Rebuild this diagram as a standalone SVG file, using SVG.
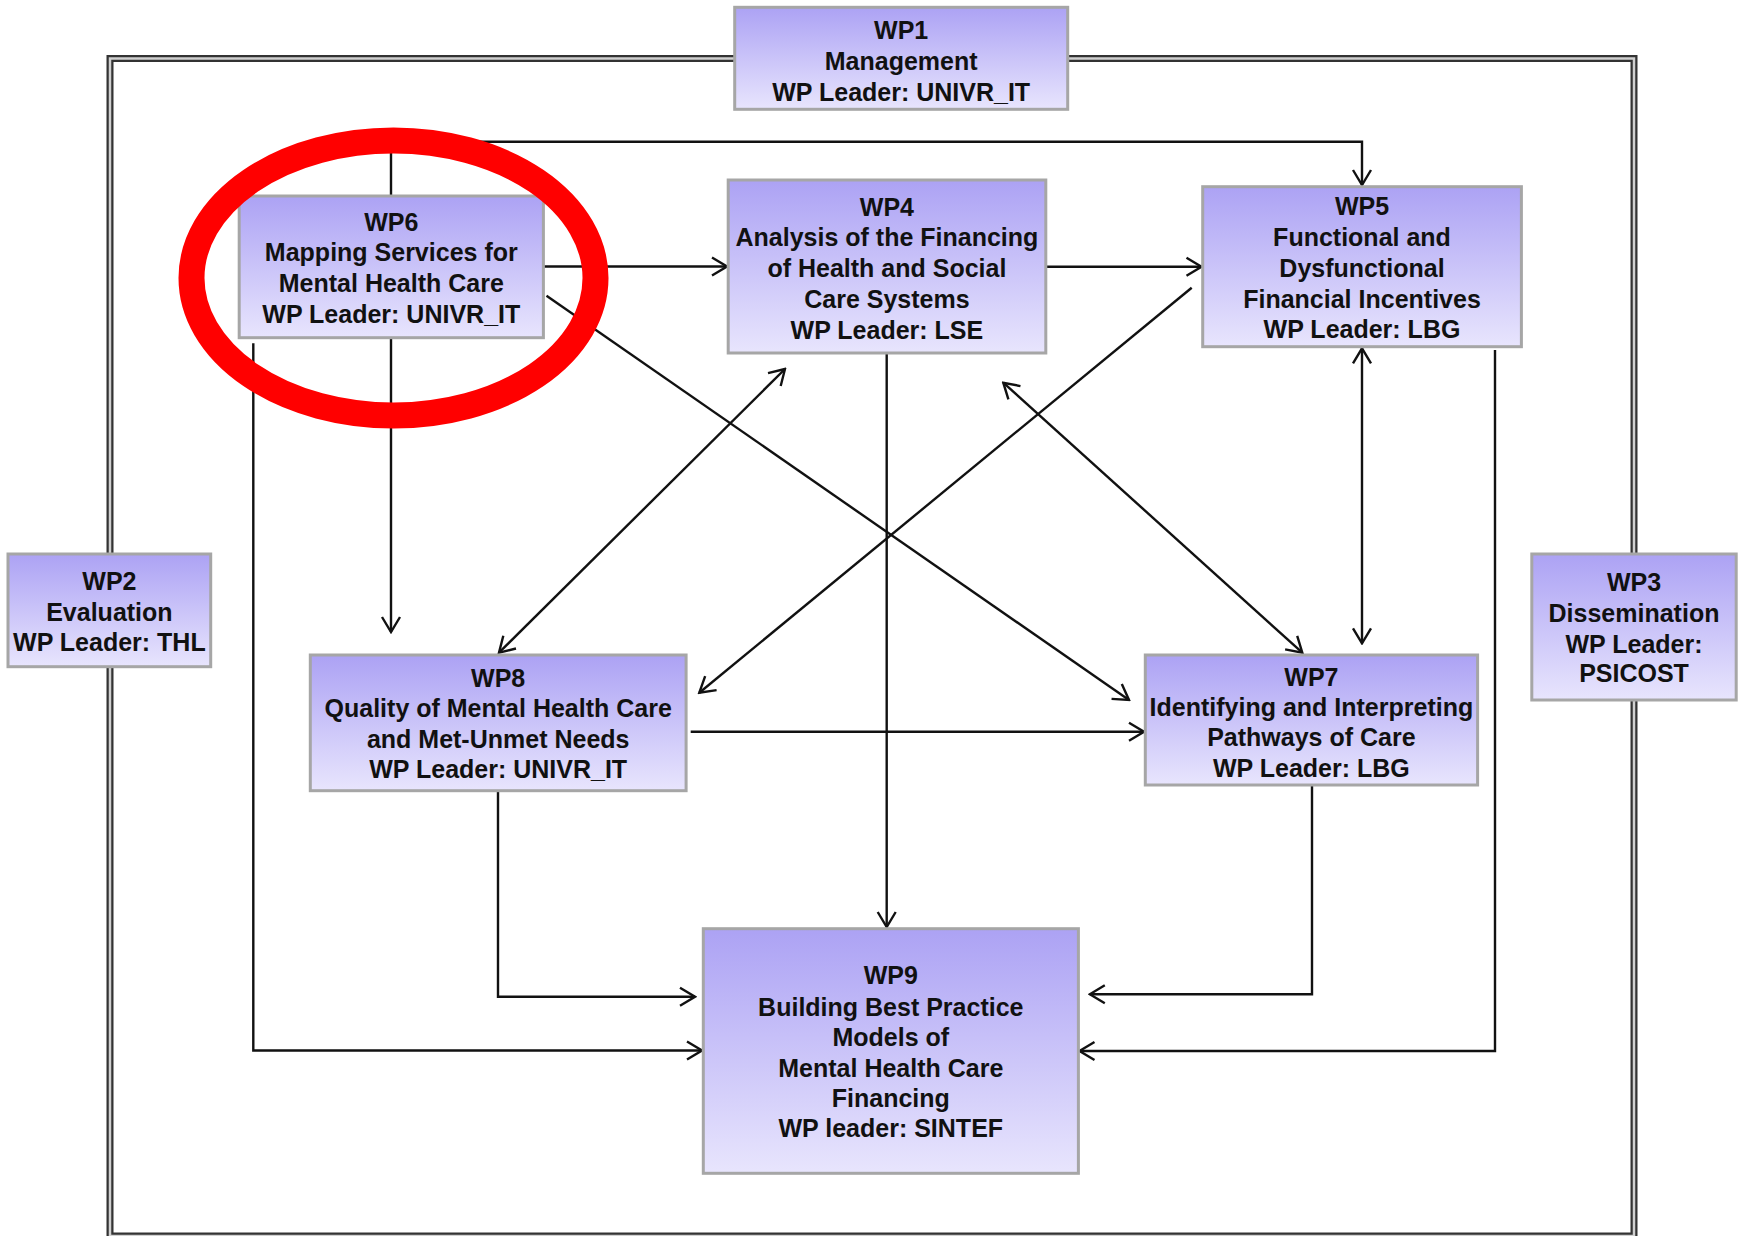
<svg xmlns="http://www.w3.org/2000/svg" width="1740" height="1236" viewBox="0 0 1740 1236">
<style>
.box{fill:url(#g);stroke:#a6a6a6;stroke-width:3}
.t{font-family:"Liberation Sans",Arial,sans-serif;font-weight:bold;font-size:25px;fill:#111;text-anchor:middle}
.c{fill:none;stroke:#111;stroke-width:2.4}
.ar{marker-end:url(#a)}
.ab{marker-start:url(#a);marker-end:url(#a)}
</style>
<defs>
<linearGradient id="g" x1="0" y1="0" x2="0" y2="1">
<stop offset="0" stop-color="#aca2f4"/>
<stop offset="1" stop-color="#e8e5fd"/>
</linearGradient>
<marker id="a" viewBox="-18 -11 20 22" markerWidth="20" markerHeight="22" refX="0" refY="0" orient="auto-start-reverse" markerUnits="userSpaceOnUse">
<path d="M-15,-9 L0,0 L-15,9" fill="none" stroke="#111" stroke-width="2.4"/>
</marker>
</defs>
<rect width="1740" height="1236" fill="#fff"/>
<g id="frame">
<rect x="110" y="58.5" width="1524" height="1177.5" fill="none" stroke="#333" stroke-width="7"/>
<rect x="110" y="58.5" width="1524" height="1177.5" fill="none" stroke="#d0d0d0" stroke-width="2.5"/>
</g>
<g id="connectors">
<path class="c ar" d="M391,196 V141.7 H1362 V185"/>
<path class="c ar" d="M543.4,266.5 H727"/>
<path class="c ar" d="M546.5,295.7 L1129,700"/>
<path class="c ar" d="M391,337.7 V632"/>
<path class="c ar" d="M253.3,343.3 V1050.5 H702"/>
<path class="c ar" d="M1046,266.7 H1201.5"/>
<path class="c ab" d="M785,369 L499,652.7"/>
<path class="c ab" d="M1003.3,382.7 L1302.3,652.7"/>
<path class="c ar" d="M1191.7,287.7 L699.3,692.7"/>
<path class="c ab" d="M1362,348.3 V643.3"/>
<path class="c ar" d="M1495,350 V1051 H1079.5"/>
<path class="c ar" d="M886.7,352.7 V927"/>
<path class="c ar" d="M690.7,731.7 H1144"/>
<path class="c ar" d="M498,790.7 V996.7 H695"/>
<path class="c ar" d="M1312,785 V994.3 H1089.8"/>
</g>
<g id="wp1">
<rect class="box" x="734.7" y="7.3" width="333" height="102"/>
<text class="t"><tspan x="901.2" y="39">WP1</tspan><tspan x="901.2" y="70">Management</tspan><tspan x="901.2" y="100.7">WP Leader: UNIVR_IT</tspan></text>
</g>
<g id="wp2">
<rect class="box" x="8" y="554" width="202.7" height="112.7"/>
<text class="t"><tspan x="109.4" y="589.7">WP2</tspan><tspan x="109.4" y="620.7">Evaluation</tspan><tspan x="109.4" y="651.3">WP Leader: THL</tspan></text>
</g>
<g id="wp3">
<rect class="box" x="1531.8" y="554" width="204.4" height="146"/>
<text class="t"><tspan x="1634" y="590.7">WP3</tspan><tspan x="1634" y="621.7">Dissemination</tspan><tspan x="1634" y="653">WP Leader:</tspan><tspan x="1634" y="682.3">PSICOST</tspan></text>
</g>
<g id="wp4">
<rect class="box" x="728.2" y="180" width="317.6" height="173"/>
<text class="t"><tspan x="886.9" y="215.7">WP4</tspan><tspan x="886.9" y="246.3">Analysis of the Financing</tspan><tspan x="886.9" y="277.3">of Health and Social</tspan><tspan x="886.9" y="308">Care Systems</tspan><tspan x="886.9" y="339">WP Leader: LSE</tspan></text>
</g>
<g id="wp5">
<rect class="box" x="1202.7" y="186.7" width="318.7" height="160"/>
<text class="t"><tspan x="1362" y="215">WP5</tspan><tspan x="1362" y="246">Functional and</tspan><tspan x="1362" y="277">Dysfunctional</tspan><tspan x="1362" y="307.5">Financial Incentives</tspan><tspan x="1362" y="338">WP Leader: LBG</tspan></text>
</g>
<g id="wp6">
<rect class="box" x="239.2" y="196" width="304.2" height="141.7"/>
<text class="t"><tspan x="391.3" y="230.7">WP6</tspan><tspan x="391.3" y="261.3">Mapping Services for</tspan><tspan x="391.3" y="292.3">Mental Health Care</tspan><tspan x="391.3" y="323">WP Leader: UNIVR_IT</tspan></text>
</g>
<g id="wp7">
<rect class="box" x="1145.3" y="655" width="332.3" height="130"/>
<text class="t"><tspan x="1311.4" y="685.7">WP7</tspan><tspan x="1311.4" y="715.7">Identifying and Interpreting</tspan><tspan x="1311.4" y="746.3">Pathways of Care</tspan><tspan x="1311.4" y="777.3">WP Leader: LBG</tspan></text>
</g>
<g id="wp8">
<rect class="box" x="310.3" y="655" width="375.8" height="135.7"/>
<text class="t"><tspan x="498.2" y="686.7">WP8</tspan><tspan x="498.2" y="717.3">Quality of Mental Health Care</tspan><tspan x="498.2" y="748.3">and Met-Unmet Needs</tspan><tspan x="498.2" y="778.3">WP Leader: UNIVR_IT</tspan></text>
</g>
<g id="wp9">
<rect class="box" x="703.3" y="928.7" width="375.1" height="244.6"/>
<text class="t"><tspan x="890.8" y="984">WP9</tspan><tspan x="890.8" y="1015.7">Building Best Practice</tspan><tspan x="890.8" y="1045.7">Models of</tspan><tspan x="890.8" y="1077.3">Mental Health Care</tspan><tspan x="890.8" y="1107.3">Financing</tspan><tspan x="890.8" y="1137.3">WP leader: SINTEF</tspan></text>
</g>
<g id="highlight">
<ellipse cx="393.5" cy="278" rx="202" ry="137.5" fill="none" stroke="#ff0000" stroke-width="26"/>
</g>
</svg>
